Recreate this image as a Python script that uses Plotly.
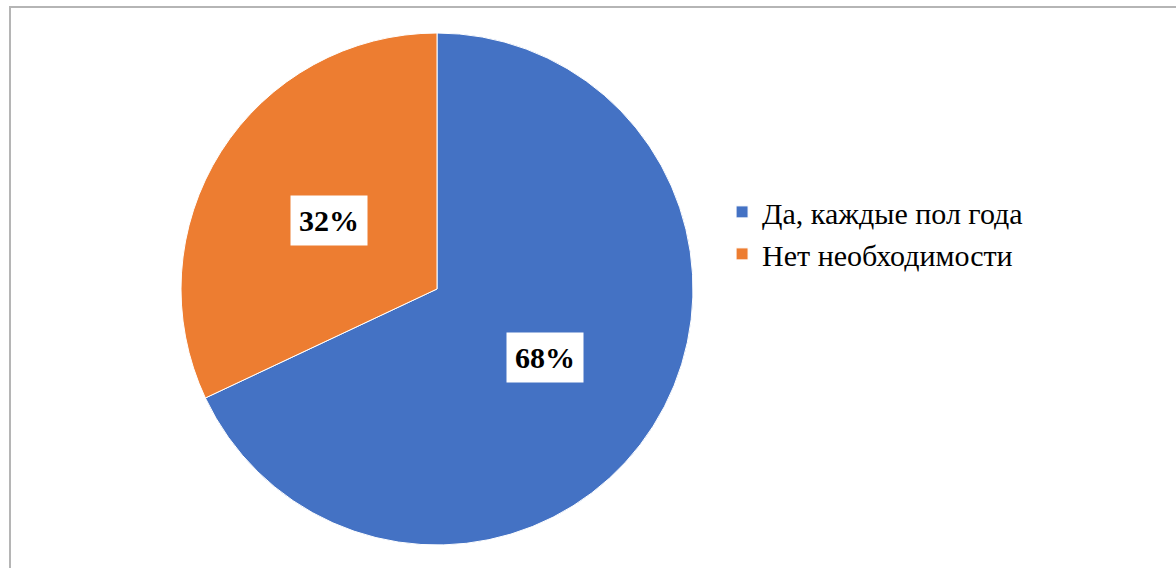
import math
import plotly.graph_objects as go

categories = ["Да, каждые пол года", "Нет необходимости"]
values = [68, 32]
colors = ["#4472C4", "#ED7D31"]

W, H = 1176, 568
dom_x = [0.1539, 0.5893]
dom_y = [0.0405, 0.9419]
SERIF = "'Liberation Serif', 'Times New Roman', 'DejaVu Serif', serif"

fig = go.Figure()
fig.add_trace(go.Pie(
    labels=categories,
    values=values,
    sort=False,
    direction="clockwise",
    rotation=0,
    textinfo="none",
    hoverinfo="label+percent",
    marker=dict(colors=colors, line=dict(color="#ffffff", width=1)),
    domain=dict(x=dom_x, y=dom_y),
))

# data labels in white boxes, placed at each slice's mid-angle
cx = (dom_x[0] + dom_x[1]) / 2 * W
cy = (1 - (dom_y[0] + dom_y[1]) / 2) * H
R = min((dom_x[1] - dom_x[0]) * W, (dom_y[1] - dom_y[0]) * H) / 2
total = sum(values)
start = 0.0
for v in values:
    mid = (start + v / 2) / total * 2 * math.pi
    start += v
    px = cx + 0.5 * R * math.sin(mid)
    py = cy - 0.5 * R * math.cos(mid)
    fig.add_annotation(
        x=px / W, y=1 - py / H, xref="paper", yref="paper",
        xanchor="center", yanchor="middle",
        text=f"<b>{round(v / total * 100)}%</b>", showarrow=False,
        font=dict(family=SERIF, size=30, color="#000000"),
        bgcolor="#ffffff", borderpad=8,
    )

fig.add_shape(type="rect", xref="paper", yref="paper",
              x0=10 / W, x1=1.01, y0=-0.01, y1=1 - 7 / H,
              line=dict(color="#b5b5b5", width=2), fillcolor="rgba(0,0,0,0)")

fig.update_layout(
    width=W, height=H,
    margin=dict(l=0, r=0, t=0, b=0),
    paper_bgcolor="#ffffff",
    plot_bgcolor="#ffffff",
    showlegend=True,
    legend=dict(x=0.614, y=0.59, xanchor="left", yanchor="middle",
                font=dict(family=SERIF, size=30, color="#000000"),
                bgcolor="rgba(0,0,0,0)", tracegroupgap=0),
)

fig.write_html("out.html", config={"displayModeBar": False},
               post_script="document.body.style.margin='0px';")
